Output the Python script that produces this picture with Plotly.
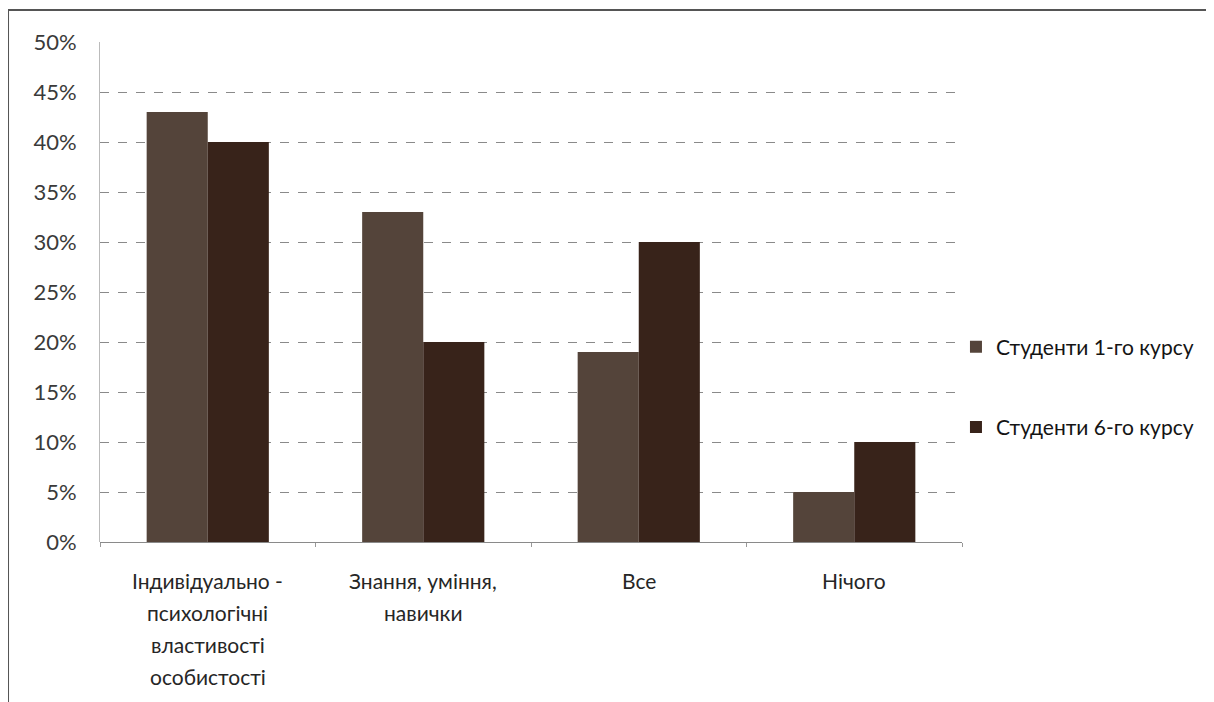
import plotly.graph_objects as go

categories = ["Індивідуально -<br>психологічні<br>властивості<br>особистості",
              "Знання, уміння,<br>навички",
              "Все",
              "Нічого"]
series_names = ["Студенти 1-го курсу", "Студенти 6-го курсу"]
values_1 = [43, 33, 19, 5]
values_6 = [40, 20, 30, 10]
tick_vals = [0, 5, 10, 15, 20, 25, 30, 35, 40, 45, 50]
tick_text = [f"{v}%" for v in tick_vals]

colors = ["#54443a", "#38231a"]
font_family = "Lato, 'Open Sans', sans-serif"

fig = go.Figure()
for name, vals, col in zip(series_names, [values_1, values_6], colors):
    fig.add_trace(go.Bar(x=categories, y=vals, name=name, legendgroup=name,
                         marker=dict(color=col, line=dict(width=0))))

# multi-line category labels as annotations for line spacing
annotations = []
for cat in categories:
    lines = cat.split("<br>")
    for i, ln in enumerate(lines):
        annotations.append(dict(x=cat, y=0, xref="x", yref="paper", text=ln,
                                showarrow=False, yanchor="middle", xanchor="center",
                                yshift=-38 - i * 32,
                                font=dict(family=font_family, size=21, color="#262626")))

fig.update_layout(
    width=1206, height=694,
    margin=dict(l=92, r=252, t=34, b=160),
    paper_bgcolor="white", plot_bgcolor="white",
    barmode="group", bargap=0.433, bargroupgap=0,
    font=dict(family=font_family, size=21, color="#333333"),
    showlegend=True,
    legend=dict(x=0.993, y=0.31, xanchor="left", yanchor="middle",
                traceorder="grouped", tracegroupgap=50,
                font=dict(family=font_family, size=21, color="#141414"),
                itemwidth=30),
    annotations=annotations,
    shapes=[dict(type="rect", xref="paper", yref="paper",
                 x0=-0.1067, x1=1.2889, y0=-0.36, y1=1.064,
                 line=dict(color="#555555", width=2), layer="below")],
)
fig.update_xaxes(type="category", showticklabels=False, ticks="outside", ticklen=4,
                 tickson="boundaries", tickcolor="#999999",
                 showline=False, showgrid=False)
fig.update_yaxes(range=[0, 50], tickvals=tick_vals, ticktext=tick_text,
                 showgrid=True, gridcolor="#8a8a8a", griddash="dash", gridwidth=1,
                 zeroline=True, zerolinecolor="#8a8a8a", zerolinewidth=1,
                 showline=True, linecolor="#bbbbbb", linewidth=1,
                 ticks="", ticklabelstandoff=18,
                 tickfont=dict(family=font_family, size=22, color="#3a3a3a"))

fig.write_html("out.html")
